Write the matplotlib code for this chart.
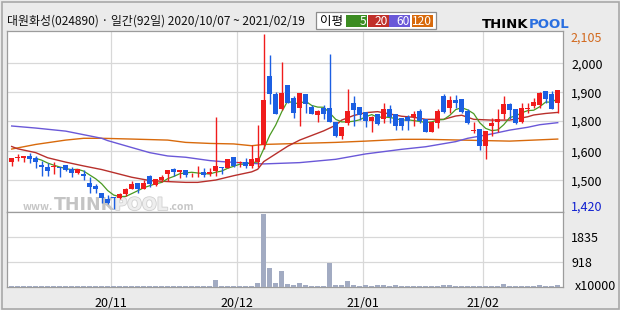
import numpy as np
import pandas as pd
import matplotlib
matplotlib.use('Agg')
import matplotlib.pyplot as plt
import matplotlib.patheffects as pe
from matplotlib.patches import Rectangle

plt.rcParams['font.family'] = ['Noto Sans CJK KR', 'DejaVu Sans']

# 92 trading days, 2020/10/07 ~ 2021/02/19 (KRX holidays removed)
holidays = ['2020-10-09', '2020-12-25', '2020-12-31', '2021-01-01', '2021-02-11', '2021-02-12']
dates = pd.bdate_range('2020-10-07', '2021-02-19').difference(pd.to_datetime(holidays))

opens = [1602, 1618, 1619, 1627, 1620, 1593, 1585, 1584, 1585, 1590, 1575, 1562, 1558, 1521, 1511, 1481,
         1459, 1467, 1462, 1477, 1499, 1520, 1499,
         1547, 1515, 1533, 1555, 1575, 1563, 1571, 1555, 1555, 1564, 1557, 1568, 1583, 1581, 1623, 1598,
         1602, 1589, 1605, 1670, 1939, 1869, 1812,
         1904, 1852, 1816, 1868, 1817, 1788, 1814, 1814, 1760, 1705, 1757, 1832, 1817, 1799, 1765, 1791,
         1773, 1810, 1791, 1775, 1779, 1778, 1803,
         1770, 1722, 1757, 1861, 1816, 1845, 1849, 1803, 1723, 1732, 1667, 1745, 1761, 1792, 1830, 1810,
         1761, 1810, 1822, 1826, 1881, 1869, 1835]
highs = [1620, 1635, 1627, 1637, 1627, 1607, 1598, 1602, 1585, 1592, 1585, 1577, 1572, 1546, 1516, 1481,
         1476, 1468, 1481, 1502, 1529, 1523, 1533,
         1551, 1536, 1551, 1572, 1581, 1572, 1571, 1559, 1588, 1580, 1581, 1778, 1583, 1614, 1623, 1607,
         1619, 1669, 1748, 2105, 2021, 1878, 1994,
         1904, 1862, 1871, 1868, 1826, 1806, 1825, 2025, 1760, 1741, 1887, 1861, 1817, 1799, 1783, 1791,
         1832, 1826, 1791, 1775, 1787, 1803, 1810,
         1770, 1758, 1810, 1869, 1861, 1864, 1849, 1809, 1758, 1732, 1724, 1774, 1810, 1861, 1835, 1810,
         1835, 1835, 1852, 1878, 1881, 1881, 1884]
lows = [1589, 1607, 1605, 1598, 1580, 1550, 1550, 1555, 1546, 1567, 1546, 1557, 1533, 1481, 1481, 1442,
        1440, 1420, 1458, 1472, 1497, 1484, 1497,
        1507, 1511, 1527, 1531, 1550, 1542, 1546, 1546, 1546, 1546, 1550, 1550, 1555, 1581, 1585, 1585,
        1579, 1579, 1585, 1653, 1830, 1791, 1806,
        1832, 1776, 1745, 1793, 1789, 1761, 1770, 1761, 1702, 1693, 1748, 1745, 1767, 1741, 1722, 1747,
        1754, 1757, 1728, 1728, 1728, 1744, 1754,
        1722, 1722, 1737, 1793, 1793, 1816, 1793, 1752, 1718, 1650, 1616, 1706, 1722, 1770, 1770, 1752,
        1757, 1796, 1813, 1816, 1832, 1810, 1796]
closes = [1620, 1624, 1627, 1617, 1602, 1583, 1568, 1586, 1581, 1571, 1562, 1575, 1550, 1506, 1497, 1464,
          1443, 1462, 1477, 1499, 1519, 1499, 1520,
          1518, 1536, 1546, 1572, 1563, 1571, 1553, 1558, 1558, 1551, 1563, 1588, 1580, 1614, 1589, 1603,
          1589, 1614, 1620, 1845, 1868, 1791, 1871,
          1835, 1796, 1871, 1830, 1789, 1803, 1792, 1761, 1705, 1739, 1803, 1806, 1788, 1765, 1780, 1753,
          1809, 1779, 1745, 1745, 1765, 1791, 1764,
          1722, 1758, 1803, 1799, 1845, 1835, 1797, 1757, 1728, 1667, 1724, 1754, 1770, 1830, 1806, 1757,
          1814, 1813, 1838, 1874, 1849, 1810, 1884]
# volume in units of 10000 shares
volumes = [30] * 34 + [248, 30, 30, 30, 30, 30, 30, 136, 2703, 694, 136, 583,
                       99, 62, 136, 62, 30, 30, 30, 893, 62, 62, 211, 62, 30, 62, 30, 62, 62, 30, 62,
                       30, 30, 30, 30, 30, 30, 30, 62, 62, 30, 30, 30, 30, 30, 30, 30, 30, 99,
                       30, 30, 30, 30, 30, 62, 30, 30, 62]

# moving averages (candle index, price)
ma20_idx = [0, 1, 4, 6, 9, 12, 15, 17, 20, 23, 26, 29, 31, 34, 37, 40, 41, 42, 44, 46, 48, 50, 52, 54,
            55, 57, 59, 61, 63, 65, 67, 69, 72, 74, 75, 77, 80, 83, 86, 87, 89, 91]
ma20_val = [1664, 1655, 1640, 1620, 1603, 1588, 1574, 1562, 1544, 1531, 1527, 1524, 1524, 1533, 1550,
            1565, 1575, 1605, 1635, 1665, 1689, 1707, 1725, 1747, 1767, 1785, 1796, 1800, 1791, 1782,
            1778, 1770, 1770, 1783, 1786, 1770, 1767, 1767, 1780, 1787, 1793, 1797]
ma60_idx = [0, 4, 9, 15, 16, 20, 23, 26, 29, 33, 35, 40, 42, 48, 54, 59, 65, 69, 74, 76, 80, 83, 86, 88, 91]
ma60_val = [1744, 1736, 1724, 1696, 1687, 1660, 1640, 1627, 1622, 1609, 1605, 1598, 1596, 1601, 1614,
            1635, 1653, 1663, 1683, 1696, 1713, 1728, 1739, 1749, 1757]
ma120_idx = [0, 4, 9, 12, 15, 20, 26, 29, 33, 37, 40, 42, 48, 54, 59, 65, 69, 83, 87, 91]
ma120_val = [1654, 1672, 1689, 1696, 1696, 1693, 1689, 1680, 1676, 1674, 1667, 1672, 1676, 1680, 1685,
             1692, 1692, 1685, 1689, 1693]

price_ticks = [1988.7, 1875.5, 1763.5, 1645, 1532]
price_labels = ['2,000', '1,900', '1,800', '1,600', '1,500']
vol_ticks = [918, 1835]
vol_labels = ['918', '1835']

RED = '#f01c1c'
BLUE = '#1c5fe2'
GRID = '#d8d8d8'
EDGE = '#9c9c9c'

x = np.arange(len(dates))
o = np.array(opens, dtype=float)
c = np.array(closes, dtype=float)
h = np.array(highs, dtype=float)
lo = np.array(lows, dtype=float)
colors = np.where(c >= o, RED, BLUE)
ma5 = pd.Series(c).rolling(5).mean()

month_start = [i for i in range(1, len(dates)) if dates[i].month != dates[i - 1].month]
month_pos = [i - 0.5 for i in month_start]
month_lab = [dates[i].strftime('%y/%m') for i in month_start]

W, H = 620, 310
fig = plt.figure(figsize=(W / 100, H / 100), dpi=100, facecolor='#ebebeb')
renderer = fig.canvas.get_renderer()


def px_axes(x0, y0, x1, y1):
    return fig.add_axes([x0 / W, 1 - y1 / H, (x1 - x0) / W, (y1 - y0) / H])


def text_run(x0, y, parts, clip_ax=None):
    # place text pieces one after another, left to right (pixel coords)
    xpos = x0
    for s, kw in parts:
        if clip_ax is not None:
            t = clip_ax.text(xpos / W, 1 - y / H, s, transform=fig.transFigure, va='baseline',
                             clip_on=True, **kw)
        else:
            t = fig.text(xpos / W, 1 - y / H, s, va='baseline', **kw)
        xpos += t.get_window_extent(renderer).width
    return xpos


ax = px_axes(7.3, 31, 562.7, 212)
axv = px_axes(7.3, 212, 562.7, 287)

for a in (ax, axv):
    a.set_facecolor('white')
    a.set_xlim(-0.73, 91.83)
    a.set_xticks(month_pos)
    a.grid(True, color=GRID, linewidth=0.9, zorder=0)
    a.set_axisbelow(True)
    for s in a.spines.values():
        s.set_color(EDGE)
        s.set_linewidth(0.9)
    a.yaxis.tick_right()
    a.tick_params(axis='both', length=0, labelsize=9, colors='black')

# --- price panel ---
ax.set_ylim(1408.3, 2114.8)
ax.set_yticks(price_ticks)
ax.set_yticklabels(price_labels)
ax.tick_params(axis='y', pad=6)
ax.tick_params(axis='x', labelbottom=False)

ax.plot(ma120_idx, ma120_val, color='#d86a0c', lw=1.0, zorder=2)
ax.plot(ma60_idx, ma60_val, color='#6a58d8', lw=1.0, zorder=2)
ax.plot(ma20_idx, ma20_val, color='#b8302c', lw=1.0, zorder=2)
ax.plot(x, ma5, color='#4a9a22', lw=0.9, zorder=2)

ax.vlines(x, lo, h, color=colors, lw=1.0, zorder=3)
body = np.maximum(np.abs(c - o), 3.5)
ax.bar(x, body, bottom=np.minimum(o, c), width=0.8, color=colors, zorder=4)

# watermark www.THINKPOOL.com, cut by the panel bottom
wm_small = dict(fontsize=7.5, fontweight='bold', color='#c6c6c6', zorder=1)
wm_big = dict(fontsize=12.5, fontweight='bold', family='DejaVu Sans', zorder=1)
text_run(23, 210, [('www.', wm_small),
                   ('THINK', dict(wm_big, color='#c4c4c4')),
                   ('POOL', dict(wm_big, color='#eeeeee',
                                 path_effects=[pe.withStroke(linewidth=1.2, foreground='#d0d0d0')])),
                   ('.com', wm_small)], clip_ax=ax)

# --- volume panel ---
axv.set_ylim(-11, 2775)
axv.bar(x, volumes, width=0.78, color='#a2abc2', zorder=3)
axv.set_yticks(vol_ticks)
axv.set_yticklabels(vol_labels)
axv.tick_params(axis='y', pad=6)
axv.set_xticks(month_pos)
axv.set_xticklabels(month_lab)
axv.tick_params(axis='x', pad=7)

# right side extreme labels
fig.text(570.7 / W, 1 - 38.3 / H, '2,105', color='#d2691e', fontsize=9, va='center')
fig.text(570.7 / W, 1 - 206.7 / H, '1,420', color='#1020d0', fontsize=9, va='center')
fig.text(574.5 / W, 1 - 286.7 / H, 'x10000', color='black', fontsize=9, va='center')

# header
HY = 1 - 21.5 / H
fig.text(7 / W, HY, '대원화성(024890) · 일간(92일) 2020/10/07 ~ 2021/02/19',
         fontsize=8.6, va='center', color='#111111')
fig.patches.append(Rectangle((315.7 / W, 1 - 29.3 / H), 120 / W, 17 / H, transform=fig.transFigure,
                             facecolor='white', edgecolor='#8c8c8c', lw=0.9))
fig.text(320 / W, HY, '이평', fontsize=9, va='center')
legend_cells = [('5', '#3c8c22', 346), ('20', '#c0302a', 368.3), ('60', '#6a58d8', 389.3),
                ('120', '#d86a0c', 412)]
for lab, col, x0 in legend_cells:
    fig.patches.append(Rectangle((x0 / W, 1 - 26.7 / H), 20.5 / W, 11.7 / H, transform=fig.transFigure,
                                 facecolor=col, edgecolor='none'))
    fig.text((x0 + 20) / W, HY, lab, fontsize=8.6, color='white', va='center', ha='right')

# THINKPOOL logo
logo = dict(fontsize=9.5, fontweight='bold', family='DejaVu Sans')
text_run(482, 27.5, [('THINK', dict(logo, color='black')), ('POOL', dict(logo, color='#2a6fe0'))])

# outer frame
fig.patches.append(Rectangle((1.5 / W, 1.5 / H), 617 / W, 307 / H, transform=fig.transFigure,
                             facecolor='none', edgecolor='#a8a8a8', lw=1.2))

fig.savefig('out.png', dpi=100, facecolor=fig.get_facecolor())
